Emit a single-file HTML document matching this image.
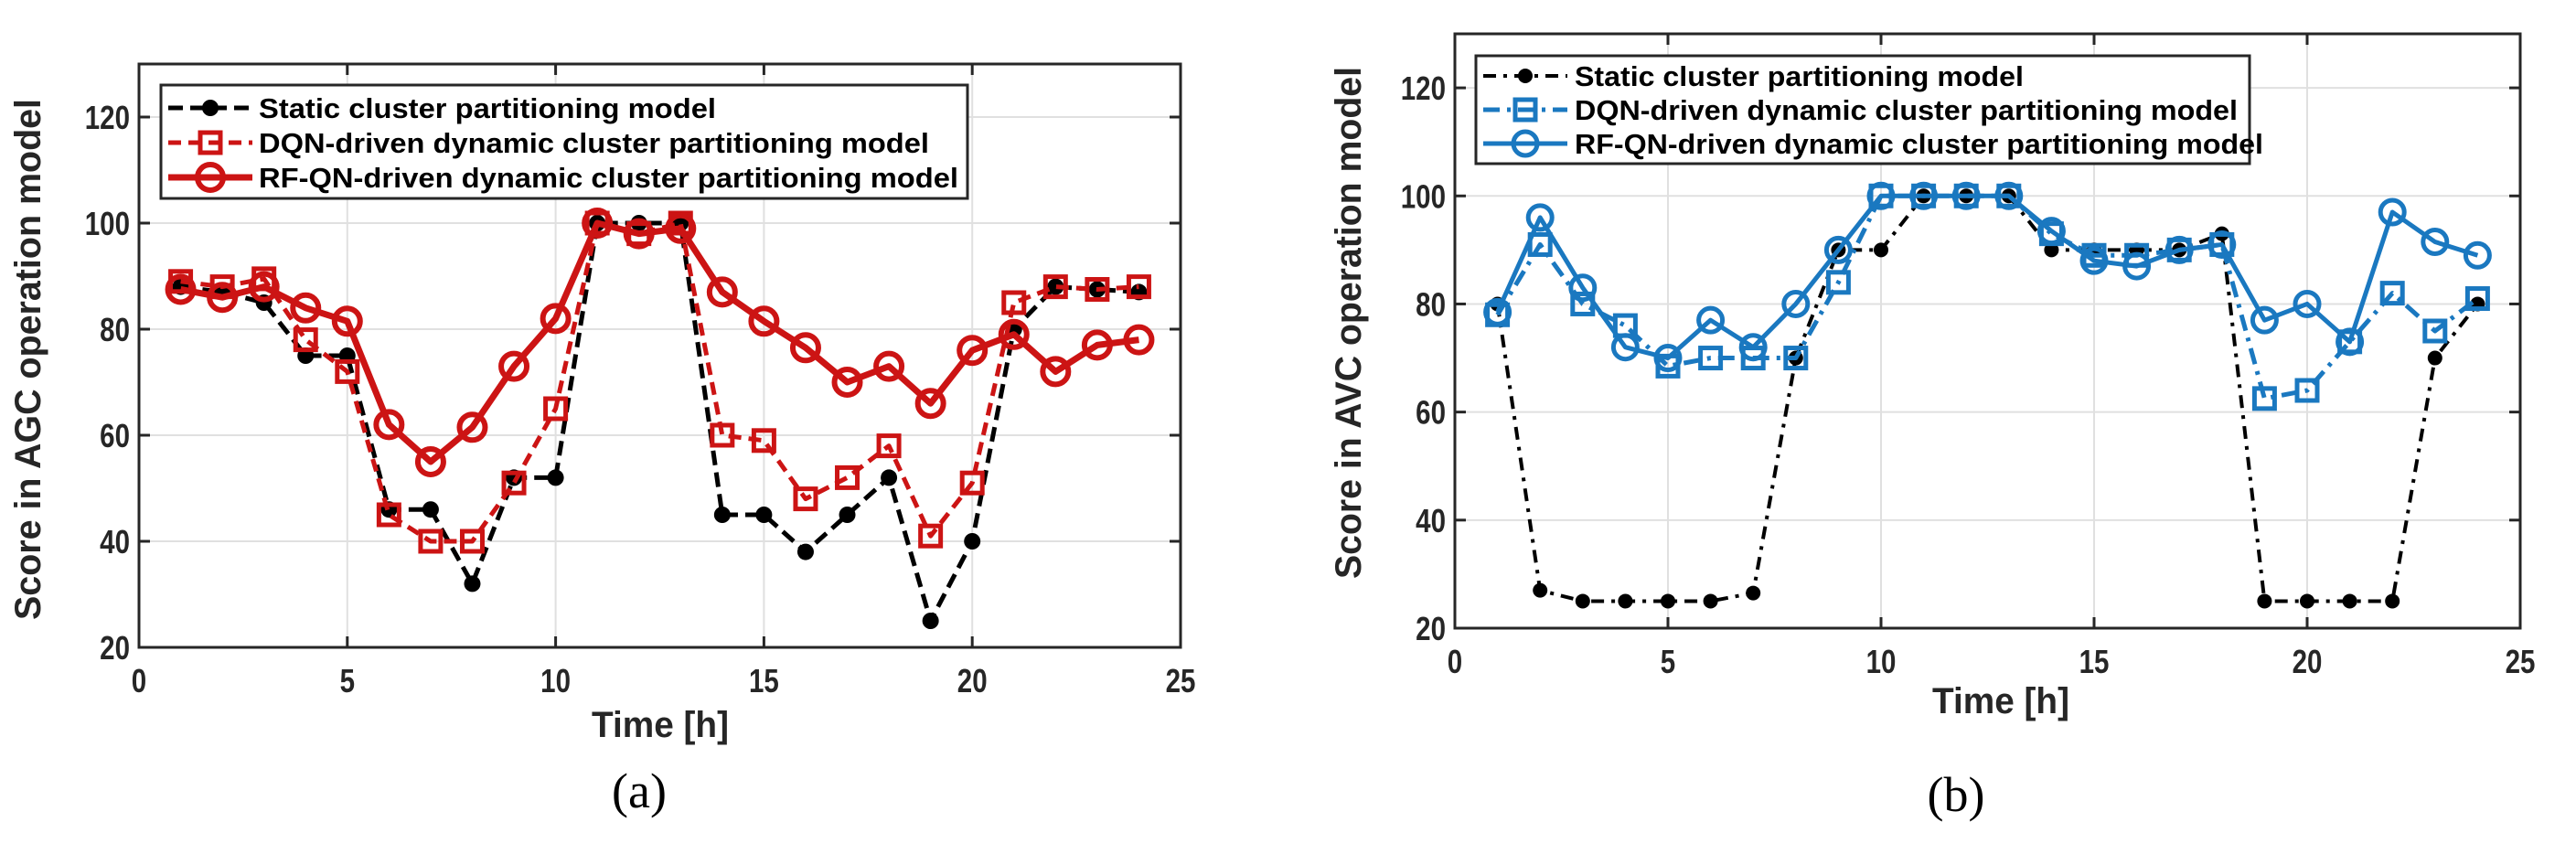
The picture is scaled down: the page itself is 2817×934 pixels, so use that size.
<!DOCTYPE html>
<html><head><meta charset="utf-8"><style>
html,body{margin:0;padding:0;background:#fff;width:2817px;height:934px;overflow:hidden}
svg{display:block}
</style></head><body>
<svg id="s" width="2817" height="934" xmlns="http://www.w3.org/2000/svg"></svg>
<script>
const hours=[1,2,3,4,5,6,7,8,9,10,11,12,13,14,15,16,17,18,19,20,21,22,23,24];
const xTicks=[0,5,10,15,20,25];
const yTicks=[20,40,60,80,100,120];
const aStatic=[88,87,85,75,75,46,46,32,52,52,100,100,100,45,45,38,45,52,25,40,80,88,87.5,87];
const aDQN=[89,88,89.5,78,72,45,40,40,51,65,100,98,100,60,59,48,52,58,41,51,85,88,87.5,88];
const aRF=[87.5,86,88,84,81.5,62,55,61.5,73,82,100,98,99,87,81.5,76.5,70,73,66,76,79,72,77,78];
const bStatic=[80,27,25,25,25,25,26.5,70,90,90,100,100,100,90,90,90,90,93,25,25,25,25,70,80];
const bDQN=[78,91,80,76,68.5,70,70,70,84,100,100,100,100,93,89,89,90,91,62.5,64,73,82,75,81];
const bRF=[78.5,96,83,72,70,77,72,80,90,100,100,100,100,93.5,88,87,90,91,77,80,73,97,91.5,89];
const legendLabels=["Static cluster partitioning model","DQN-driven dynamic cluster partitioning model","RF-QN-driven dynamic cluster partitioning model"];

const NS="http://www.w3.org/2000/svg";
const svg=document.getElementById('s');
function mk(tag,attrs,parent){const e=document.createElementNS(NS,tag);for(const k in attrs)e.setAttribute(k,attrs[k]);(parent||svg).appendChild(e);return e;}

function panel(cfg){
  const g=mk('g',{});
  
  
  const X=v=>cfg.x0+(v-0)/25*(cfg.x1-cfg.x0);
  const Y=v=>cfg.y1-(v-20)/110*(cfg.y1-cfg.y0);
  xTicks.forEach(t=>{ if(t>0&&t<25){const l=mk('line',{x1:X(t),x2:X(t),y1:cfg.y0,y2:cfg.y1,stroke:'#e0e0e0','stroke-width':2},g);
    }});
  yTicks.forEach(t=>{const l=mk('line',{x1:cfg.x0,x2:cfg.x1,y1:Y(t),y2:Y(t),stroke:'#e0e0e0','stroke-width':2},g);
    });
  xTicks.forEach(t=>{
    mk('line',{x1:X(t),x2:X(t),y1:cfg.y1,y2:cfg.y1-12,stroke:'#262626','stroke-width':3},g);
    mk('line',{x1:X(t),x2:X(t),y1:cfg.y0,y2:cfg.y0+12,stroke:'#262626','stroke-width':3},g);
    const tx=mk('text',{x:X(t),y:cfg.y1+49,'text-anchor':'middle','font-family':'Liberation Sans, sans-serif','font-weight':'bold','font-size':36,fill:'#262626',transform:`translate(${X(t)},0) scale(0.82,1) translate(${-X(t)},0)`},g);
    tx.textContent=t;
    
  });
  yTicks.forEach(t=>{
    mk('line',{x1:cfg.x0,x2:cfg.x0+12,y1:Y(t),y2:Y(t),stroke:'#262626','stroke-width':3},g);
    mk('line',{x1:cfg.x1,x2:cfg.x1-12,y1:Y(t),y2:Y(t),stroke:'#262626','stroke-width':3},g);
    const tx=mk('text',{x:cfg.x0-10,y:Y(t)+13,'text-anchor':'end','font-family':'Liberation Sans, sans-serif','font-weight':'bold','font-size':36,fill:'#262626',transform:`translate(${cfg.x0-10},0) scale(0.82,1) translate(${-(cfg.x0-10)},0)`},g);
    tx.textContent=t;
    
  });
  const box=mk('rect',{x:cfg.x0,y:cfg.y0,width:cfg.x1-cfg.x0,height:cfg.y1-cfg.y0,fill:'none',stroke:'#262626','stroke-width':3},g);
  
  const c=cfg.color;
  const series=[
    {d:cfg.s,stroke:'#000',dash:cfg.sDash,w:cfg.sW,mark:'dot',name:'static-series'},
    {d:cfg.q,stroke:c,dash:cfg.dqnDash,w:cfg.qW,mark:'square',name:'dqn-series'},
    {d:cfg.r,stroke:c,dash:'none',w:cfg.rfW,mark:'circle',name:'rfqn-series'}
  ];
  function marker(type,x,y,col,parent,sz){
    let m;
    if(type==='dot') m=mk('circle',{cx:x,cy:y,r:sz.dot,fill:'#000'},parent);
    else if(type==='square') m=mk('rect',{x:x-sz.sq,y:y-sz.sq,width:2*sz.sq,height:2*sz.sq,fill:'none',stroke:col,'stroke-width':sz.sqW},parent);
    else m=mk('circle',{cx:x,cy:y,r:sz.ci,fill:'none',stroke:col,'stroke-width':sz.ciW},parent);
    return m;
  }
  series.forEach(se=>{
    const sg=mk('g',{},g);
    
    const pts=se.d.map((v,i)=>X(hours[i])+','+Y(v)).join(' ');
    mk('polyline',{points:pts,fill:'none',stroke:se.stroke,'stroke-width':se.w,'stroke-dasharray':se.dash,'stroke-linejoin':'round'},sg);
    se.d.forEach((v,i)=>{
      const m=marker(se.mark,X(hours[i]),Y(v),se.stroke,sg,cfg.sz);
      
      
    });
  });
  const lg=mk('g',{},g);
  
  mk('rect',{x:cfg.lx0,y:cfg.ly0,width:cfg.lx1-cfg.lx0,height:cfg.ly1-cfg.ly0,fill:'#fff',stroke:'#262626','stroke-width':3},lg);
  series.forEach((se,i)=>{
    const ey=cfg.rows[i];
    const eg=mk('g',{},lg);
    
    mk('line',{x1:cfg.lx0+8,x2:cfg.lx0+100,y1:ey,y2:ey,stroke:se.stroke,'stroke-width':se.w,'stroke-dasharray':se.dash},eg);
    marker(se.mark,cfg.lx0+54,ey,se.stroke,eg,cfg.sz);
    const t=mk('text',{x:cfg.ltx,y:ey+11,'font-family':'Liberation Sans, sans-serif','font-weight':'bold','font-size':31,fill:'#000',textLength:cfg.lw[i],lengthAdjust:'spacingAndGlyphs'},eg);
    t.textContent=legendLabels[i];
  });
  const yl=mk('text',{x:0,y:0,'text-anchor':'middle','font-family':'Liberation Sans, sans-serif','font-weight':'bold','font-size':40,fill:'#262626',transform:`translate(${cfg.ylx},${cfg.yly}) rotate(-90)`,textLength:cfg.ylLen,lengthAdjust:'spacingAndGlyphs'},g);
  yl.textContent=cfg.ylabel;
  
  const xl=mk('text',{x:cfg.xlx,y:cfg.xly,'text-anchor':'middle','font-family':'Liberation Sans, sans-serif','font-weight':'bold','font-size':40,fill:'#262626',textLength:150,lengthAdjust:'spacingAndGlyphs'},g);
  xl.textContent='Time [h]';
  
  const cap=mk('text',{x:cfg.capx,y:cfg.capy,'text-anchor':'middle','font-family':'Liberation Serif, serif','font-size':54,fill:'#000'},g);
  cap.textContent=cfg.cap;
  
}

panel({name:'panel-a-agc',x0:152,x1:1291,y0:70,y1:708,color:'#cc1414',s:aStatic,q:aDQN,r:aRF,
  sDash:'16,8',sW:5,dqnDash:'14,8',qW:5,rfW:7,
  sz:{dot:9,sq:11,sqW:5,ci:14,ciW:6},
  lx0:176,lx1:1058,ly0:93,ly1:217,rows:[118,156,194],ltx:283,lw:[500,733,765],
  ylabel:'Score in AGC operation model',ylx:44,yly:393,ylLen:570,xlx:722,xly:806,cap:'(a)',capx:699,capy:883});
panel({name:'panel-b-avc',x0:1591,x1:2756,y0:37,y1:687,color:'#1a78c0',s:bStatic,q:bDQN,r:bRF,
  sDash:'14,8,4,8',sW:4,dqnDash:'18,8,4,8',qW:5,rfW:5,
  sz:{dot:8,sq:11,sqW:5,ci:13,ciW:5},
  lx0:1614,lx1:2460,ly0:61,ly1:179,rows:[83,120,157],ltx:1722,lw:[491,725,753],
  ylabel:'Score in AVC operation model',ylx:1488,yly:353,ylLen:560,xlx:2188,xly:780,cap:'(b)',capx:2139,capy:887});
</script>
</body></html>
